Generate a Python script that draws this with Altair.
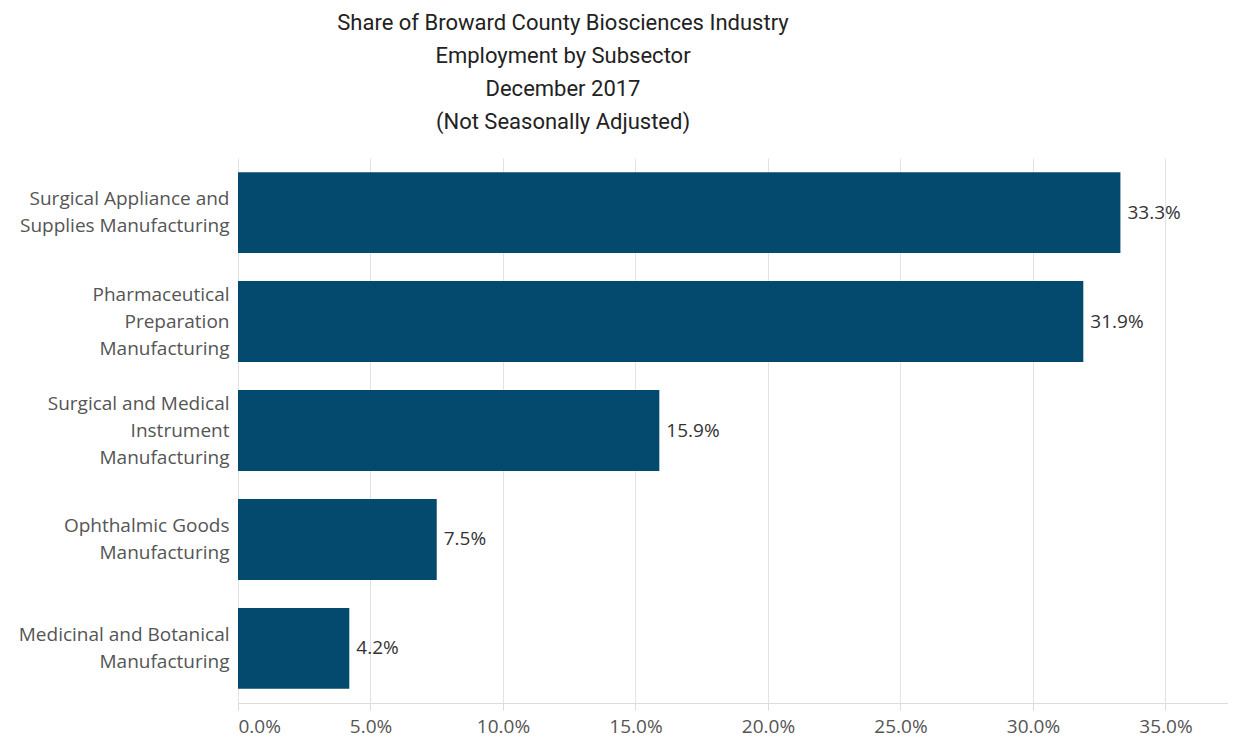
import altair as alt
import pandas as pd

categories = [
    "Surgical Appliance and|Supplies Manufacturing",
    "Pharmaceutical|Preparation|Manufacturing",
    "Surgical and Medical|Instrument|Manufacturing",
    "Ophthalmic Goods|Manufacturing",
    "Medicinal and Botanical|Manufacturing",
]
shares = [33.3, 31.9, 15.9, 7.5, 4.2]
tick_values = [0, 5, 10, 15, 20, 25, 30, 35]
title_lines = [
    "Share of Broward County Biosciences Industry",
    "Employment by Subsector",
    "December 2017",
    "(Not Seasonally Adjusted)",
]

df = pd.DataFrame({"subsector": categories, "share": shares})

label_font = "Open Sans"
gray = "#555555"
fs = 19

y_enc = alt.Y(
    "subsector:N",
    sort=categories,
    title=None,
    scale=alt.Scale(paddingInner=0.257, paddingOuter=0.13),
    axis=alt.Axis(
        labelExpr="split(datum.label, '|')",
        labelFontSize=fs,
        labelFont=label_font,
        labelColor=gray,
        labelLineHeight=27,
        labelPadding=9,
        labelOffset={
            "condition": {"test": "length(split(datum.value, '|')) == 3", "value": -27},
            "value": -13.5,
        },
        ticks=False,
        domain=False,
        grid=False,
        labelLimit=300,
    ),
)

x_enc = alt.X(
    "share:Q",
    title=None,
    scale=alt.Scale(domain=[0, 37.36], nice=False, zero=True),
    axis=alt.Axis(
        values=tick_values,
        labelExpr="format(datum.value, '.1f') + '%'",
        labelFontSize=fs,
        labelFont=label_font,
        labelColor=gray,
        labelPadding=7,
        grid=True,
        gridColor="#e3e3e3",
        gridWidth=1,
        tickSize=7,
        tickColor="#dcdcdc",
        domainColor="#dcdcdc",
    ),
)

bars = alt.Chart(df).mark_bar(color="#034a6e").encode(x=x_enc, y=y_enc)

labels = (
    alt.Chart(df)
    .transform_calculate(lbl="format(datum.share, '.1f') + '%'")
    .mark_text(align="left", baseline="middle", dx=7, fontSize=fs, font=label_font, color="#333333")
    .encode(x="share:Q", y=alt.Y("subsector:N", sort=categories), text="lbl:N")
)

chart = (
    alt.layer(bars, labels)
    .properties(
        width=990,
        height=545,
        autosize=alt.AutoSizeParams(type="none"),
        padding={"left": 230, "top": 150, "right": 0, "bottom": 40},
        title=alt.TitleParams(
            text=title_lines,
            fontSize=22,
            font="Roboto",
            fontWeight="normal",
            color="#222222",
            lineHeight=33,
            anchor="middle",
            dx=-170,
            offset=24,
        ),
    )
    .configure_view(stroke=None)
)

chart.save("out.html", embed_options={"renderer": "svg", "actions": False})
